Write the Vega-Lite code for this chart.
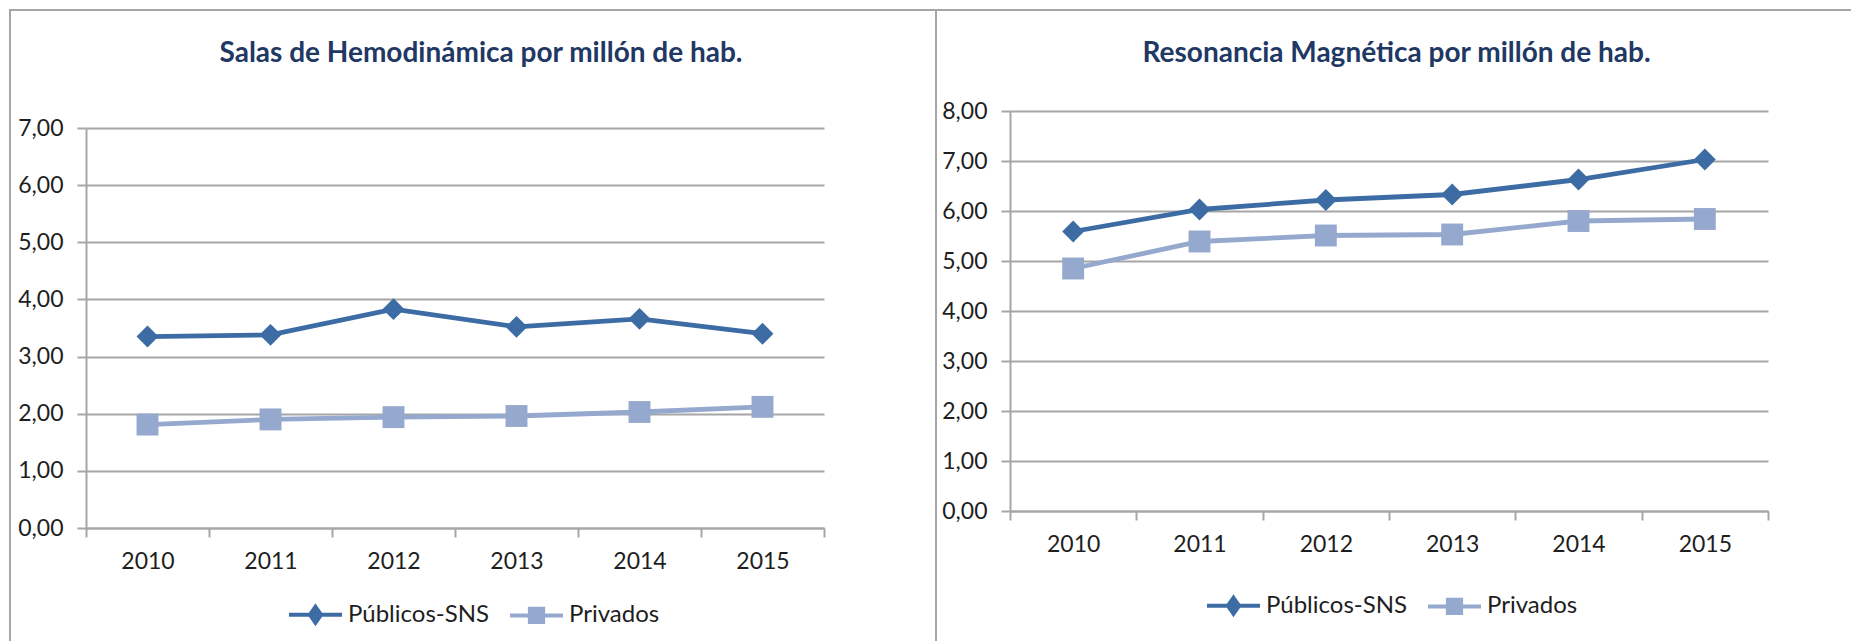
{
  "$schema": "https://vega.github.io/schema/vega-lite/v6.json",
  "padding": {"left": 9, "top": 9, "right": 0, "bottom": 0},
  "background": "white",
  "spacing": 0,
  "bounds": "flush",
  "datasets": {
    "hemo": [
      {"year": "2010", "serie": "Públicos-SNS", "value": 3.35},
      {"year": "2011", "serie": "Públicos-SNS", "value": 3.38},
      {"year": "2012", "serie": "Públicos-SNS", "value": 3.83},
      {"year": "2013", "serie": "Públicos-SNS", "value": 3.52},
      {"year": "2014", "serie": "Públicos-SNS", "value": 3.66},
      {"year": "2015", "serie": "Públicos-SNS", "value": 3.40},
      {"year": "2010", "serie": "Privados", "value": 1.81},
      {"year": "2011", "serie": "Privados", "value": 1.90},
      {"year": "2012", "serie": "Privados", "value": 1.94},
      {"year": "2013", "serie": "Privados", "value": 1.96},
      {"year": "2014", "serie": "Privados", "value": 2.03},
      {"year": "2015", "serie": "Privados", "value": 2.12}
    ],
    "rm": [
      {"year": "2010", "serie": "Públicos-SNS", "value": 5.59},
      {"year": "2011", "serie": "Públicos-SNS", "value": 6.03},
      {"year": "2012", "serie": "Públicos-SNS", "value": 6.22},
      {"year": "2013", "serie": "Públicos-SNS", "value": 6.33},
      {"year": "2014", "serie": "Públicos-SNS", "value": 6.63},
      {"year": "2015", "serie": "Públicos-SNS", "value": 7.03},
      {"year": "2010", "serie": "Privados", "value": 4.85},
      {"year": "2011", "serie": "Privados", "value": 5.39},
      {"year": "2012", "serie": "Privados", "value": 5.51},
      {"year": "2013", "serie": "Privados", "value": 5.53},
      {"year": "2014", "serie": "Privados", "value": 5.80},
      {"year": "2015", "serie": "Privados", "value": 5.84}
    ]
  },
  "config": {
    "font": "Lato",
    "axis": {
      "labelFont": "Lato",
      "labelFontSize": 23,
      "labelColor": "#1e1e1e",
      "domainColor": "#a6a6a6",
      "domainWidth": 2,
      "tickColor": "#a6a6a6",
      "tickWidth": 2,
      "tickSize": 9,
      "gridColor": "#a6a6a6",
      "gridWidth": 2,
      "title": null
    },
    "legend": {
      "labelFont": "Lato",
      "labelFontSize": 24,
      "labelColor": "#1e1e1e",
      "labelOffset": 4,
      "columnPadding": 12,
      "symbolSize": 2809,
      "symbolStrokeWidth": 4,
      "padding": 0
    },
    "title": {
      "font": "Lato",
      "fontSize": 28,
      "fontWeight": "bold",
      "color": "#1f3864",
      "anchor": "middle",
      "frame": "group"
    }
  },
  "resolve": {"scale": {"x": "independent", "y": "independent", "color": "independent"}, "legend": {"color": "independent"}},
  "hconcat": [
    {
      "width": 926,
      "height": 631,
      "view": {"stroke": "#a6a6a6", "strokeWidth": 2, "strokeDash": [926, 1557, 631]},
      "title": {"text": "Salas de Hemodinámica por millón de hab.", "offset": -58, "dx": 8},
      "data": {"name": "hemo"},
      "encoding": {
        "x": {"field": "year", "type": "ordinal",
          "scale": {"type": "band", "range": [76, 814], "paddingInner": 0, "paddingOuter": 0},
          "axis": {"orient": "bottom", "offset": -113, "tickBand": "extent", "labelAngle": 0, "labelPadding": 13, "grid": false}},
        "y": {"field": "value", "type": "quantitative",
          "scale": {"domain": [0, 7], "range": [518, 118], "nice": false, "zero": true},
          "axis": {"offset": -76, "values": [0, 1, 2, 3, 4, 5, 6, 7], "labelExpr": "replace(format(datum.value, '.2f'), '.', ',')", "grid": true, "labelPadding": 14}},
        "color": {"field": "serie", "type": "nominal",
          "scale": {"domain": ["Públicos-SNS", "Privados"], "range": ["#3d6ca5", "#95a9cf"]},
          "legend": {"title": null, "orient": "none", "direction": "horizontal", "legendX": 277, "legendY": 576,
            "encode": {"symbols": {"update": {
              "shape": {"signal": "datum.value === 'Privados' ? 'M-1,0H1M-0.25,-0.25H0.25V0.25H-0.25Z' : 'M-1,0H1M0,-0.3L0.21,0L0,0.3L-0.21,0Z'"},
              "fill": {"signal": "datum.value === 'Privados' ? '#95a9cf' : '#3d6ca5'"},
              "stroke": {"signal": "datum.value === 'Privados' ? '#95a9cf' : '#3d6ca5'"},
              "strokeWidth": {"value": 4},
              "size": {"value": 2809},
              "opacity": {"value": 1},
              "fillOpacity": {"value": 1},
              "strokeOpacity": {"value": 1}
            }}}}}
      },
      "layer": [
        {"mark": {"type": "line", "strokeWidth": 4.8}},
        {"mark": {"type": "point", "filled": true, "opacity": 1, "size": 480},
          "encoding": {"shape": {"condition": {"test": "datum.serie === 'Privados'", "value": "square"}, "value": "diamond"}}}
      ]
    },
    {
      "width": 915,
      "height": 631,
      "view": {"stroke": "#a6a6a6", "strokeWidth": 2, "strokeDash": [915, 1546, 631]},
      "title": {"text": "Resonancia Magnética por millón de hab.", "offset": -58, "dx": 3},
      "data": {"name": "rm"},
      "encoding": {
        "x": {"field": "year", "type": "ordinal",
          "scale": {"type": "band", "range": [74, 832], "paddingInner": 0, "paddingOuter": 0},
          "axis": {"orient": "bottom", "offset": -130, "tickBand": "extent", "labelAngle": 0, "labelPadding": 13, "grid": false}},
        "y": {"field": "value", "type": "quantitative",
          "scale": {"domain": [0, 8], "range": [501, 101], "nice": false, "zero": true},
          "axis": {"offset": -74, "values": [0, 1, 2, 3, 4, 5, 6, 7, 8], "labelExpr": "replace(format(datum.value, '.2f'), '.', ',')", "grid": true, "labelPadding": 14}},
        "color": {"field": "serie", "type": "nominal",
          "scale": {"domain": ["Públicos-SNS", "Privados"], "range": ["#3d6ca5", "#95a9cf"]},
          "legend": {"title": null, "orient": "none", "direction": "horizontal", "legendX": 269, "legendY": 567,
            "encode": {"symbols": {"update": {
              "shape": {"signal": "datum.value === 'Privados' ? 'M-1,0H1M-0.25,-0.25H0.25V0.25H-0.25Z' : 'M-1,0H1M0,-0.3L0.21,0L0,0.3L-0.21,0Z'"},
              "fill": {"signal": "datum.value === 'Privados' ? '#95a9cf' : '#3d6ca5'"},
              "stroke": {"signal": "datum.value === 'Privados' ? '#95a9cf' : '#3d6ca5'"},
              "strokeWidth": {"value": 4},
              "size": {"value": 2809},
              "opacity": {"value": 1},
              "fillOpacity": {"value": 1},
              "strokeOpacity": {"value": 1}
            }}}}}
      },
      "layer": [
        {"mark": {"type": "line", "strokeWidth": 4.8}},
        {"mark": {"type": "point", "filled": true, "opacity": 1, "size": 480},
          "encoding": {"shape": {"condition": {"test": "datum.serie === 'Privados'", "value": "square"}, "value": "diamond"}}}
      ]
    }
  ]
}
